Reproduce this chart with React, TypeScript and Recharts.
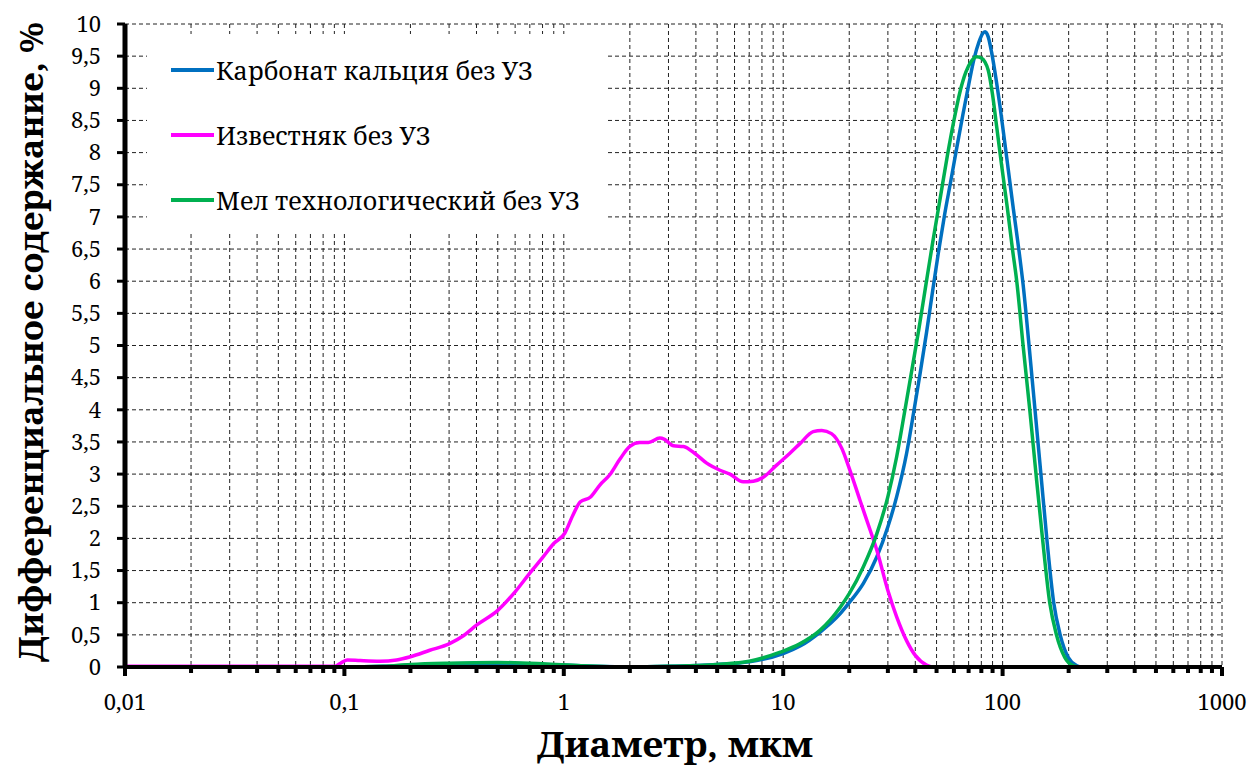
import React from "react";
import { CartesianGrid, Legend, Line, LineChart, XAxis, YAxis } from "recharts";

const FONT = "Noto Serif";

const seriesNames = ["Карбонат кальция без УЗ", "Известняк без УЗ", "Мел технологический без УЗ"];
const seriesColors = ["#0070C0", "#FF00FF", "#00B050"];

// [диаметр, мкм ; содержание, %]
const carbonate: [number, number][] = [
  [0.01, 0], [0.1, 0], [0.15, 0.01], [0.2, 0.03], [0.3, 0.05], [0.5, 0.06], [0.8, 0.04],
  [1.2, 0.02], [2, 0.0], [3, 0.01], [5, 0.04], [7, 0.08], [10, 0.21], [12, 0.33],
  [14.7, 0.54], [18.2, 0.83], [20, 1.0], [23.2, 1.3], [26.7, 1.71], [30, 2.18], [32.9, 2.65],
  [36.5, 3.32], [39.5, 4.0], [42, 4.55], [45, 5.2], [48, 5.85], [51, 6.45], [54.5, 7.05],
  [58, 7.55], [62, 8.1], [66, 8.6], [70, 9.05], [74, 9.45], [78, 9.72], [81, 9.85],
  [83.2, 9.88], [86, 9.8], [89.2, 9.55], [93, 9.18], [97.3, 8.72], [101, 8.3], [106, 7.75],
  [112, 7.12], [119, 6.45], [124, 5.95], [132, 5.0], [140.5, 4.0], [149.5, 3.0], [159, 2.0],
  [171, 1.0], [183, 0.5], [199, 0.15], [218, 0.02], [230, 0], [1000, 0],
];

const limestone: [number, number][] = [
  [0.01, 0.01], [0.09, 0.01], [0.095, 0.05], [0.103, 0.11], [0.118, 0.1], [0.145, 0.09],
  [0.173, 0.11], [0.2, 0.16], [0.245, 0.26], [0.3, 0.36], [0.35, 0.49], [0.4, 0.65],
  [0.5, 0.88], [0.6, 1.17], [0.7, 1.46], [0.8, 1.7], [0.9, 1.92], [1.01, 2.08], [1.1, 2.36],
  [1.19, 2.57], [1.32, 2.64], [1.46, 2.83], [1.62, 2.99], [1.8, 3.23], [2.0, 3.43],
  [2.22, 3.49], [2.43, 3.49], [2.74, 3.56], [2.88, 3.54], [3.16, 3.44], [3.51, 3.43],
  [3.96, 3.32], [4.48, 3.17], [5.15, 3.06], [5.72, 3.0], [6.57, 2.88], [7.31, 2.89],
  [8.11, 2.95], [9.33, 3.14], [10.7, 3.32], [11.9, 3.47], [13.7, 3.66], [15.0, 3.68],
  [16.6, 3.63], [18.5, 3.4], [20, 3.09], [22.4, 2.59], [24.9, 2.13], [26.7, 1.82],
  [30, 1.19], [32.9, 0.78], [36.5, 0.41], [40, 0.18], [45, 0.03], [48, 0], [1000, 0],
];

const chalk: [number, number][] = [
  [0.01, 0], [0.1, 0], [0.15, 0.01], [0.2, 0.04], [0.3, 0.06], [0.5, 0.07], [0.8, 0.05],
  [1.2, 0.02], [2, 0.0], [3, 0.01], [5, 0.04], [7, 0.09], [9.7, 0.23], [11.9, 0.36],
  [14.7, 0.57], [18.2, 0.93], [20, 1.14], [23.2, 1.56], [26.7, 2.07], [30, 2.65],
  [32.9, 3.27], [35.9, 4.0], [38.5, 4.6], [41.5, 5.25], [44.5, 5.9], [48, 6.6], [52, 7.3],
  [56, 7.95], [60, 8.5], [64, 8.95], [68, 9.25], [72, 9.42], [76.3, 9.49], [80, 9.47],
  [86, 9.28], [90, 8.9], [94, 8.4], [99, 7.8], [105, 7.15], [111, 6.49], [116, 6.0],
  [124, 5.0], [133, 4.0], [142, 3.0], [152, 2.0], [164, 1.0], [176, 0.5], [192, 0.15],
  [210, 0.02], [225, 0], [1000, 0],
];

const decades = [0.01, 0.1, 1, 10, 100, 1000];
const decadeLabels = ["0,01", "0,1", "1", "10", "100", "1000"];
const minorSteps = [2, 3, 4, 5, 6, 7, 8, 9];
const yTicks = [0, 0.5, 1, 1.5, 2, 2.5, 3, 3.5, 4, 4.5, 5, 5.5, 6, 6.5, 7, 7.5, 8, 8.5, 9, 9.5, 10];

const xTicks: number[] = [];
decades.forEach((d, i) => {
  xTicks.push(d);
  if (i < decades.length - 1) minorSteps.forEach((m) => xTicks.push(+(d * m).toPrecision(3)));
});

const toRows = (pts: [number, number][]) => pts.map(([d, v]) => ({ d, v }));

const XTick = (props: any) => {
  const { x, y, payload } = props;
  const idx = decades.indexOf(payload.value);
  const major = idx >= 0;
  return (
    <g>
      <line x1={x} x2={x} y1={y} y2={y + (major ? 9 : 6)} stroke="#000" strokeWidth={4} />
      {major && (
        <text x={x} y={y + 43} textAnchor="middle" fontSize={22} fontFamily={FONT} fill="#000">
          {decadeLabels[idx]}
        </text>
      )}
    </g>
  );
};

const YTick = (props: any) => {
  const { x, y, payload } = props;
  return (
    <g>
      <line x1={x - 8} x2={x} y1={y} y2={y} stroke="#000" strokeWidth={3} />
      <text x={x - 24} y={y} dy="0.35em" textAnchor="end" fontSize={22} fontFamily={FONT} fill="#000">
        {String(payload.value).replace(".", ",")}
      </text>
    </g>
  );
};

const LegendBox = ({ payload }: any) => {
  const items = [...(payload || [])].sort(
    (a: any, b: any) => seriesNames.indexOf(a.value) - seriesNames.indexOf(b.value)
  );
  return (
    <div style={{ width: "100%", height: "100%", background: "#fff", fontFamily: FONT }}>
      {items.map((p: any, i: number) => (
        <div
          key={p.value}
          style={{ position: "absolute", left: 24, top: 36 + i * 65 - 15, height: 30, display: "flex", alignItems: "center" }}
        >
          <span style={{ display: "inline-block", width: 43, height: 4, background: p.color }} />
          <span style={{ fontSize: 25, color: "#000", marginLeft: 2, whiteSpace: "nowrap" }}>{p.value}</span>
        </div>
      ))}
    </div>
  );
};

export default function App() {
  const series = [carbonate, limestone, chalk];
  return (
    <div style={{ position: "absolute", left: 0, top: 0, width: 1255, height: 769, background: "#fff" }}>
      <LineChart width={1255} height={769} margin={{ top: 24, right: 33, bottom: 0, left: 0 }}>
        <CartesianGrid stroke="#222" strokeWidth={1} strokeDasharray="4 3" />
        <XAxis
          dataKey="d"
          type="number"
          scale="log"
          domain={[0.01, 1000]}
          ticks={xTicks}
          interval={0}
          allowDataOverflow
          height={102}
          tickSize={0}
          tickMargin={0}
          tick={<XTick />}
          axisLine={{ stroke: "#000", strokeWidth: 4 }}
          tickLine={false}
          label={{
            content: () => (
              <text
                x={675}
                y={757}
                textAnchor="middle"
                fontSize={35}
                fontWeight="bold"
                fontFamily={FONT}
                textLength={276}
                lengthAdjust="spacingAndGlyphs"
                fill="#000"
              >
                Диаметр, мкм
              </text>
            ),
          }}
        />
        <YAxis
          dataKey="v"
          type="number"
          domain={[0, 10]}
          ticks={yTicks}
          interval={0}
          width={125}
          tickSize={0}
          tickMargin={0}
          tick={<YTick />}
          axisLine={{ stroke: "#000", strokeWidth: 5 }}
          tickLine={false}
          label={{
            content: () => (
              <text
                x={43}
                y={342}
                transform="rotate(-90, 43, 342)"
                textAnchor="middle"
                fontSize={33}
                fontWeight="bold"
                fontFamily={FONT}
                textLength={640}
                lengthAdjust="spacingAndGlyphs"
                fill="#000"
              >
                Дифференциальное содержание, %
              </text>
            ),
          }}
        />
        <Legend
          layout="horizontal"
          verticalAlign="middle"
          align="center"
          content={<LegendBox />}
          wrapperStyle={{ left: 147, top: 34, width: 460, height: 198, background: "#fff" }}
        />
        {series.map((pts, i) => (
          <Line
            key={seriesNames[i]}
            data={toRows(pts)}
            dataKey="v"
            name={seriesNames[i]}
            type="monotone"
            stroke={seriesColors[i]}
            strokeWidth={3.5}
            dot={false}
            activeDot={false}
            isAnimationActive={false}
          />
        ))}
      </LineChart>
    </div>
  );
}
